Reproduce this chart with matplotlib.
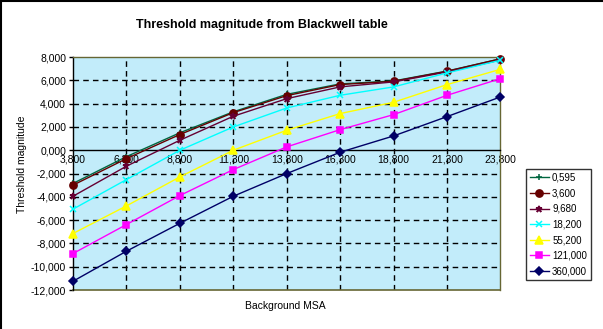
import matplotlib
matplotlib.use('Agg')
import matplotlib.pyplot as plt
from matplotlib.ticker import FuncFormatter, FixedLocator
from matplotlib.lines import Line2D

# background MSA categories
categories = ['3,800', '6,300', '8,800', '11,300', '13,800', '16,300', '18,800', '21,300', '23,800']

# threshold magnitude per series (legend label -> values)
s_0595 = [-2.85, -0.55, 1.50, 3.30, 4.80, 5.70, 5.95, 6.80, 7.85]
s_3600 = [-3.00, -0.72, 1.35, 3.23, 4.69, 5.64, 5.92, 6.78, 7.85]
s_9680 = [-3.95, -1.37, 0.86, 2.92, 4.43, 5.44, 5.87, 6.72, 7.75]
s_18200 = [-5.06, -2.52, 0.00, 2.00, 3.63, 4.72, 5.44, 6.64, 7.73]
s_55200 = [-7.15, -4.78, -2.29, 0.00, 1.72, 3.15, 4.12, 5.64, 6.95]
s_121000 = [-8.87, -6.38, -3.89, -1.66, 0.29, 1.77, 3.06, 4.72, 6.15]
s_360000 = [-11.25, -8.67, -6.27, -3.95, -2.00, -0.17, 1.23, 2.89, 4.58]

labels = ['0,595', '3,600', '9,680', '18,200', '55,200', '121,000', '360,000']
series = [s_0595, s_3600, s_9680, s_18200, s_55200, s_121000, s_360000]

# style per series
colors = ['#006640', '#660000', '#660033', '#00ffff', '#ffff00', '#ff00ff', '#000066']
markers = ['+', 'o', '*', 'x', '^', 's', 'D']
msizes = [5, 5.2, 4.5, 4, 5.2, 5, 3.6]

plt.rcParams['font.family'] = ['Liberation Sans', 'DejaVu Sans']

fig = plt.figure(figsize=(6.03, 3.29), dpi=100)
ax = fig.add_axes([0.121, 0.1185, 0.709, 0.708])
ax.set_facecolor('#c2ecfa')

x = list(range(len(categories)))
for vals, lab, c, m, ms in zip(series, labels, colors, markers, msizes):
    ax.plot(x, vals, color=c, lw=1, marker=m, ms=ms, mfc=c, mec=c,
            mew=1.1, label=lab, clip_on=False, zorder=4)

ax.set_xlim(0, 8)
ax.set_ylim(-12, 8)

# gridlines
for yv in range(-10, 8, 2):
    if yv != 0:
        ax.axhline(yv, color='black', lw=1, dashes=(4, 3), zorder=2)
for xv in range(1, 8):
    ax.axvline(xv, color='black', lw=1, dashes=(4, 3), zorder=2)
ax.axhline(-12, color='#666633', lw=1.2, zorder=3, clip_on=False)

# spines
border = '#666633'
ax.spines['top'].set_color(border)
ax.spines['right'].set_color(border)
ax.spines['left'].set_color('black')
ax.spines['bottom'].set_position(('data', 0))
ax.spines['bottom'].set_color('black')
for sp in ax.spines.values():
    sp.set_linewidth(1)
    sp.set_zorder(3)

ax.yaxis.set_major_locator(FixedLocator(range(-12, 9, 2)))
ax.yaxis.set_major_formatter(FuncFormatter(lambda v, p: f'{v:.3f}'.replace('.', ',')))
ax.tick_params(axis='y', length=3, width=1, labelsize=7.5, pad=2)

ax.set_xticks(x)
ax.set_xticklabels(categories)
ax.tick_params(axis='x', length=0, labelsize=7.5, pad=3)

fig.text(0.434, 0.925, 'Threshold magnitude from Blackwell table',
         ha='center', va='center', fontsize=9, fontweight='bold')
fig.text(0.036, 0.5, 'Threshold magnitude', rotation=90,
         ha='center', va='center', fontsize=7.5)
fig.text(0.473, 0.07, 'Background MSA', ha='center', va='center', fontsize=7.5)

handles = [Line2D([0], [0], color=c, lw=1, marker=m, ms=ms, mfc=c, mec=c, mew=1.1)
           for c, m, ms in zip(colors, markers, msizes)]
leg = fig.legend(handles, labels, loc='upper left', bbox_to_anchor=(0.872, 0.487),
                 fontsize=7, frameon=True, fancybox=False, edgecolor='black',
                 handlelength=2.0, handletextpad=0.3, labelspacing=0.58,
                 borderpad=0.4, borderaxespad=0)
leg.get_frame().set_linewidth(1)

# outer frame lines on left and top edges
fig.add_artist(Line2D([0.001, 0.001], [0, 1], color='black', lw=1.5, transform=fig.transFigure))
fig.add_artist(Line2D([0, 1], [0.998, 0.998], color='black', lw=1.5, transform=fig.transFigure))

fig.savefig('out.png', dpi=100)
